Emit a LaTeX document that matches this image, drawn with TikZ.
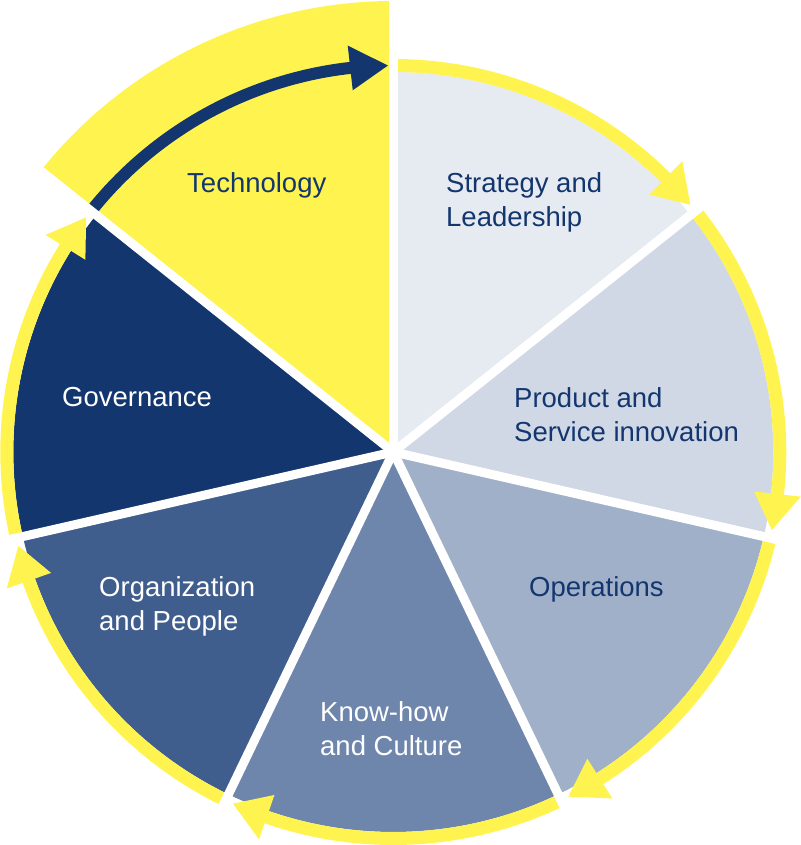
\documentclass[tikz,border=0pt]{standalone}
\usepackage{fontspec}
\setmainfont{Liberation Sans}
\definecolor{cyel}{HTML}{FFF44F}
\definecolor{cnavy}{HTML}{13366F}
\definecolor{corg}{HTML}{3F5E8E}
\definecolor{cknow}{HTML}{6F86AC}
\definecolor{cops}{HTML}{A1B0C9}
\definecolor{cprod}{HTML}{D0D8E5}
\definecolor{cstrat}{HTML}{E6EAF1}
\newcommand\twoln[2]{\vtop{\baselineskip=34pt\hbox{#1}\hbox{#2}}}
\begin{document}
\begin{tikzpicture}
\tikzset{
  lbl/.style={font=\fontsize{27.5}{34}\selectfont, inner sep=0pt, anchor=base west},
  ring/.style={cyel, line width=13pt},
  navyring/.style={cnavy, line width=12pt},
  gap/.style={white, line width=9pt}
}
\useasboundingbox (0,0) rectangle (800pt,845pt);
\coordinate (C) at (393.3pt,393pt);
% wedges
\foreach \col [count=\k from 0] in {cstrat,cprod,cops,cknow,corg,cnavy} {
  \pgfmathsetmacro\s{90-\k*360/7}
  \pgfmathsetmacro\e{\s-360/7}
  \fill[\col] (C) -- ([shift={(C)}]\s:380pt) arc[start angle=\s, end angle=\e, radius=380pt] -- cycle;
}
\fill[cyel] (C) -- ([shift={(C)}]90:451pt) arc[start angle=90, end angle=141.4286, radius=451pt] -- cycle;
% yellow arrows
\foreach \k in {0,...,5} {
  \pgfmathsetmacro\s{90-\k*360/7-0.65}
  \pgfmathsetmacro\t{90-(\k+1)*360/7+1.2}
  \pgfmathsetmacro\b{\t+5.4}
  \pgfmathsetmacro\bb{\b-0.5}
  \draw[ring] ([shift={(C)}]\s:386.5pt) arc[start angle=\s, end angle=\bb, radius=386.5pt];
  \fill[cyel] ([shift={(C)}]\t:386.5pt) -- ([shift={(C)}]\b:363pt) -- ([shift={(C)}]\b:410pt) -- cycle;
}
% navy arrow in technology
\draw[navyring] ([shift={(C)}]140.78:386.5pt) arc[start angle=140.78, end angle=95.9, radius=386.5pt];
\fill[cnavy] ([shift={(C)}]90.8:386.5pt) -- ([shift={(C)}]96.4:364pt) -- ([shift={(C)}]96.4:409pt) -- cycle;
% separators
\foreach \k in {0,...,6} {
  \pgfmathsetmacro\a{90-\k*360/7}
  \draw[gap] (C) -- ([shift={(C)}]\a:456pt);
}
% labels
\node[lbl, text=cnavy] (tech) at (187pt,652pt) {Technology};
\node[lbl, text=cnavy] (strat) at (446pt,652pt) {\twoln{Strategy and}{Leadership}};
\node[lbl, text=cnavy] (prod) at (514pt,437pt) {\twoln{Product and}{Service innovation}};
\node[lbl, text=cnavy] (ops) at (529pt,248pt) {Operations};
\node[lbl, text=white] (gov) at (62pt,438pt) {Governance};
\node[lbl, text=white] (org) at (99pt,248pt) {\twoln{Organization}{and People}};
\node[lbl, text=white] (know) at (320pt,123pt) {\twoln{Know-how}{and Culture}};
\end{tikzpicture}
\end{document}
